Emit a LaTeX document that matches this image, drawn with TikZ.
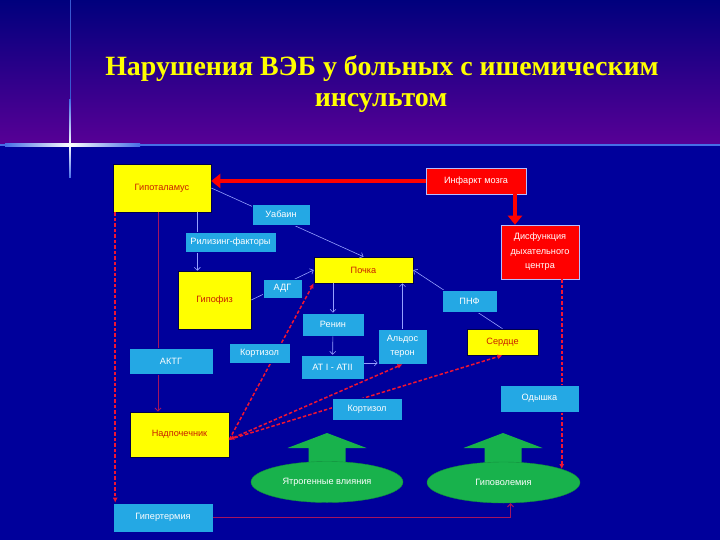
\documentclass[tikz,border=0pt]{standalone}
\usepackage{fontspec}
\setmainfont{Liberation Serif}
\newfontfamily\boxfont{Liberation Sans}
\usetikzlibrary{arrows.meta, shapes.geometric, calc}

\definecolor{bodyblue}{RGB}{0,0,155}
\definecolor{headtop}{RGB}{0,0,125}
\definecolor{headbot}{RGB}{88,0,150}
\definecolor{boxyellow}{RGB}{255,255,0}
\definecolor{boxcyan}{RGB}{36,168,228}
\definecolor{boxred}{RGB}{255,0,0}
\definecolor{boxgreen}{RGB}{24,178,76}
\definecolor{linkblue}{RGB}{150,160,255}
\definecolor{dashred}{RGB}{240,20,50}
\definecolor{darkred}{RGB}{165,20,95}
\definecolor{textred}{RGB}{200,30,0}
\definecolor{glowblue}{RGB}{70,110,230}

\tikzset{
  box/.style={rectangle, inner sep=1bp, align=center, font=\boxfont\fontsize{9.2}{14.5}\selectfont},
  ybox/.style={box, fill=boxyellow, draw=black!70!blue, line width=0.6bp, text=textred},
  cbox/.style={box, fill=boxcyan, draw=blue!60!black, line width=0.6bp, text=white},
  rbox/.style={box, fill=boxred, draw=linkblue!70!white, line width=0.6bp, text=white},
  gell/.style={ellipse, fill=boxgreen, draw=boxgreen!80!black, inner sep=0bp, text=white, font=\boxfont\fontsize{9.2}{10}\selectfont},
  link/.style={draw=linkblue, line width=0.6bp, -{Straight Barb[length=3bp,width=6bp]}},
  redlink/.style={draw=dashred, line width=1.5bp, dash pattern=on 3.5bp off 2bp, -{Latex[length=5bp,width=5bp]}},
  darklink/.style={draw=darkred, line width=1bp, -{Straight Barb[length=3bp,width=6bp]}},
  bigred/.style={draw=boxred, line width=4.5bp, -{Triangle[length=9bp,width=14bp]}},
}

\begin{document}
\begin{tikzpicture}[x=1bp, y=-1bp]
  \useasboundingbox (0,0) rectangle (720,540);
  \fill[bodyblue] (0,0) rectangle (720,540);
  \shade[top color=headtop, bottom color=headbot] (0,0) rectangle (720,145);

  % header lines and flare
  \draw[line width=1.2bp, glowblue] (0,145) -- (720,145);
  \draw[line width=0.6bp, glowblue!80!headtop] (70,0) -- (70,150);
  \shade[left color=glowblue, right color=white] (5,144) rectangle (70,146.5);
  \shade[left color=white, right color=glowblue] (70,144) rectangle (140,146.5);
  \shade[top color=glowblue, bottom color=white] (69.2,100) rectangle (70.8,145);
  \shade[top color=white, bottom color=glowblue] (69.2,145) rectangle (70.8,178);

  \node[font=\bfseries\fontsize{28}{32}\selectfont, text=boxyellow, anchor=base] (title1) at (382,76) {Нарушения ВЭБ у больных с ишемическим};
  \node[font=\bfseries\fontsize{28}{32}\selectfont, text=boxyellow, anchor=base] (title2) at (381,107) {инсультом};

  \node[ybox, minimum width=98bp, minimum height=48bp] (hypo) at (162,188) {Гипоталамус};
  \node[rbox, minimum width=100bp, minimum height=26bp] (infarct) at (476,181) {Инфаркт мозга};
  \node[rbox, minimum width=78bp, minimum height=54bp] (dysf) at (540,252) {Дисфункция\\дыхательного\\центра};
  \node[ybox, minimum width=99bp, minimum height=26bp] (kidney) at (363.5,270) {Почка};
  \node[ybox, minimum width=73bp, minimum height=58bp] (pit) at (214.5,300) {Гипофиз};
  \node[cbox, minimum width=62bp, minimum height=23bp] (renin) at (333,324.5) {Ренин};
  \node[cbox, minimum width=49bp, minimum height=35bp] (aldo) at (402.5,346.5) {Альдос\\терон};
  \node[ybox, minimum width=71bp, minimum height=26bp] (heart) at (502.5,342) {Сердце};
  \node[cbox, minimum width=63bp, minimum height=24bp] (angio) at (332.5,367) {АТ I - АТII};
  \node[ybox, minimum width=99bp, minimum height=45bp] (adrenal) at (179.5,434.5) {Надпочечник};
  \node[cbox, minimum width=100bp, minimum height=29bp] (hyperth) at (163,517.5) {Гипертермия};

  \foreach \cx in {327,503}
    \fill[boxgreen] (\cx,433) -- ++(39.5,15) -- ++(-21,0) -- ++(0,22) -- ++(-37,0) -- ++(0,-22) -- ++(-21,0) -- cycle;
  \node[gell, minimum width=152bp, minimum height=41bp] (iatro) at (327,482) {Ятрогенные влияния};
  \node[gell, minimum width=153bp, minimum height=41bp] (hypovol) at (503.5,482.5) {Гиповолемия};

  \draw[bigred] (infarct.west) -- (infarct.west -| hypo.east);
  \draw[bigred] ([xshift=39bp]infarct.south) -- ([xshift=39bp]infarct.south |- dysf.north);

  \draw[link] (hypo.east) -- (kidney.north);
  \draw[link] ([xshift=-14bp]hypo.south east) -- ([xshift=-14bp]hypo.south east |- pit.north);
  \draw[link] (pit.east) -- (kidney.west);
  \draw[link] (renin.north |- kidney.south) -- (renin.north);
  \draw[link] (renin) -- (angio);
  \draw[link] ([yshift=4bp]angio.east) -- ([yshift=4bp]angio.east -| aldo.west);
  \draw[link] (aldo.north) -- (aldo.north |- kidney.south);
  \draw[link] (heart.north) -- (kidney.east);

  \draw[darklink] ([xshift=-4bp]hypo.south) -- ([xshift=-4bp]hypo.south |- adrenal.north);
  \draw[darklink] (hyperth.east) -| ([xshift=7bp]hypovol.south);

  \draw[redlink] ([xshift=2.5bp]hypo.south west) -- ([xshift=2.5bp]hypo.south west |- hyperth.north);
  \draw[redlink] (dysf.south -| hypovol.13) -- (hypovol.13);
  \coordinate (hub) at ([yshift=-5bp]adrenal.east);
  \draw[redlink] (hub) -- (kidney.south west);
  \draw[redlink, {Latex[length=5bp,width=5bp]}-{Latex[length=5bp,width=5bp]}] (hub) -- (aldo.south);
  \draw[redlink] (hub) -- (heart.south);

  \node[cbox, minimum width=58bp, minimum height=21bp] (uabain) at (281,214.5) {Уабаин};
  \node[cbox, minimum width=91bp, minimum height=20bp] (rf) at (230.5,242) {Рилизинг-факторы};
  \node[cbox, minimum width=39bp, minimum height=19bp] (adg) at (282.5,288.5) {АДГ};
  \node[cbox, minimum width=55bp, minimum height=22bp] (pnf) at (469.5,301) {ПНФ};
  \node[cbox, minimum width=84bp, minimum height=26bp] (actg) at (171,361) {АКТГ};
  \node[cbox, minimum width=61bp, minimum height=20bp] (cort1) at (259.5,353) {Кортизол};
  \node[cbox, minimum width=70bp, minimum height=22bp] (cort2) at (367,409) {Кортизол};
  \node[cbox, minimum width=79bp, minimum height=27bp] (dysp) at (539.5,398.5) {Одышка};
\end{tikzpicture}
\end{document}
